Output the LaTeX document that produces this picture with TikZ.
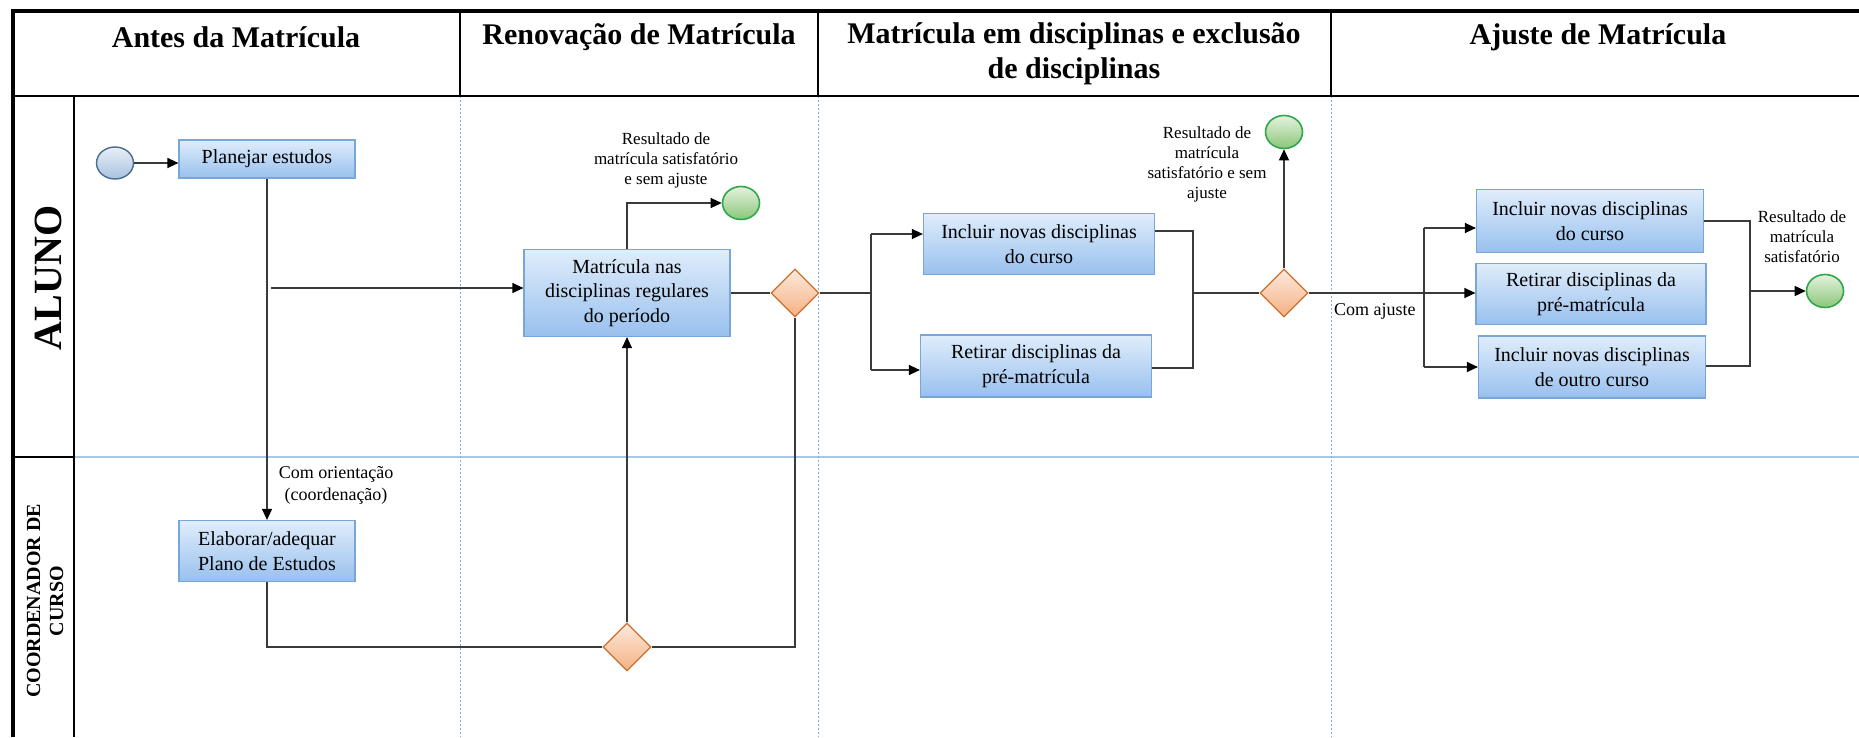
\documentclass[tikz,border=0pt]{standalone}
\usepackage{fontspec}
\setmainfont{Liberation Serif}
\usetikzlibrary{shapes.geometric,arrows.meta}
\definecolor{boxtop}{HTML}{E0EDFB}
\definecolor{boxbot}{HTML}{98C0EE}
\definecolor{boxline}{HTML}{78A6D8}
\definecolor{gwtop}{HTML}{FDE9DC}
\definecolor{gwbot}{HTML}{F4B183}
\definecolor{gwline}{HTML}{C8712F}
\definecolor{endtop}{HTML}{E4F2DD}
\definecolor{endbot}{HTML}{8CC67A}
\definecolor{endline}{HTML}{2EA84A}
\definecolor{sttop}{HTML}{E8EFF8}
\definecolor{stbot}{HTML}{A8C2E0}
\definecolor{stline}{HTML}{4A6C8F}
\definecolor{linegray}{HTML}{3A3A3A}
\definecolor{sepblue}{HTML}{A9C8E4}
\definecolor{divblue}{HTML}{7FB0D8}
\tikzset{
  task/.style={draw=boxline, line width=1.2pt, top color=boxtop, bottom color=boxbot,
    font=\fontsize{20}{24.5}\selectfont, align=center, inner sep=0pt},
  gw/.style={diamond, draw=gwline, line width=1.3pt, top color=gwtop, bottom color=gwbot,
    minimum width=48pt, minimum height=48pt, inner sep=0pt},
  endev/.style={ellipse, draw=endline, line width=1.6pt, top color=endtop, bottom color=endbot,
    minimum width=37pt, minimum height=33pt, inner sep=0pt},
  startev/.style={ellipse, draw=stline, line width=1.4pt, top color=sttop, bottom color=stbot,
    minimum width=37pt, minimum height=32pt, inner sep=0pt},
  conn/.style={draw=linegray, line width=1.3pt},
  arr/.style={conn, -{Triangle[length=11pt,width=10pt,color=black]}},
  lbl/.style={font=\fontsize{17}{20}\selectfont, align=center, inner sep=0pt},
  lblb/.style={font=\fontsize{18}{22}\selectfont, align=center, inner sep=0pt},
  hdr/.style={font=\bfseries\fontsize{30}{35}\selectfont, align=center, inner sep=0pt},
  frame/.style={draw=black, line width=2pt},
  thick frame/.style={draw=black, line width=4.5pt},
  divider/.style={draw=divblue, line width=0.8pt, dash pattern=on 2pt off 2pt},
  lanesep/.style={draw=sepblue, line width=1.3pt}
}
\begin{document}
\begin{tikzpicture}[x=1pt,y=-1pt]
\useasboundingbox (0,0) rectangle (1859,737);
\fill[white] (0,0) rectangle (1859,737);
% frame
\draw[lanesep] (74,457) -- (1859,457);
\draw[divider] (460,96) -- (460,737);
\draw[divider] (818,96) -- (818,737);
\draw[divider] (1331,96) -- (1331,737);
\draw[frame] (13,96) -- (1859,96);
\draw[frame] (460,11) -- (460,96);
\draw[frame] (818,11) -- (818,96);
\draw[frame] (1331,11) -- (1331,96);
\draw[frame] (74,96) -- (74,737);
\draw[frame] (13,457) -- (74,457);
\draw[thick frame] (11,11) -- (1859,11);
\draw[thick frame] (13,9) -- (13,737);
% headers
\node[hdr] (h1) at (236,37) {Antes da Matrícula};
\node[hdr] (h2) at (639,37) {Renovação de Matrícula};
\node[hdr] (h3) at (1074,54) {Matrícula em disciplinas e exclusão\\de disciplinas};
\node[hdr] (h4) at (1598,37) {Ajuste de Matrícula};
% lane labels
\node[font=\bfseries\fontsize{40}{44}\selectfont, rotate=90, inner sep=0pt] (lane1) at (48,278) {ALUNO};
\node[font=\bfseries\fontsize{20}{23}\selectfont, rotate=90, align=center, inner sep=0pt] (lane2) at (45,601) {COORDENADOR DE\\CURSO};
% nodes
\node[startev] (start) at (115,163) {};
\node[task, minimum width=176pt, minimum height=38pt] (plan) at (267,159) {Planejar estudos};
\node[task, minimum width=176pt, minimum height=61pt] (elab) at (267,551) {Elaborar/adequar\\Plano de Estudos};
\node[task, minimum width=206pt, minimum height=87pt] (mat) at (627,293) {Matrícula nas\\disciplinas regulares\\do período};
\node[lbl] (r1) at (666,160) {Resultado de\\matrícula satisfatório\\e sem ajuste};
\node[endev] (e1) at (741,203) {};
\node[gw] (g1) at (795,293) {};
\node[gw] (g0) at (627,647) {};
\node[task, minimum width=231pt, minimum height=61pt] (inc1) at (1039,244) {Incluir novas disciplinas\\do curso};
\node[task, minimum width=231pt, minimum height=62pt] (ret1) at (1036,366) {Retirar disciplinas da\\pré-matrícula};
\node[gw] (g2) at (1284,293) {};
\node[endev] (e2) at (1284,132) {};
\node[lbl] (r2) at (1207,164) {Resultado de\\matrícula\\satisfatório e sem\\ajuste};
\node[task, minimum width=227pt, minimum height=63pt] (incA) at (1590,221) {Incluir novas disciplinas\\do curso};
\node[task, minimum width=230pt, minimum height=61pt] (retB) at (1591,294) {Retirar disciplinas da\\pré-matrícula};
\node[task, minimum width=227pt, minimum height=62pt] (incC) at (1592,367) {Incluir novas disciplinas\\de outro curso};
\node[endev] (e3) at (1825,291) {};
\node[lbl] (r3) at (1802,237) {Resultado de\\matrícula\\satisfatório};
\node[lblb, anchor=west] (lc) at (1334,311) {Com ajuste};
\node[lblb] (lo) at (336,485) {Com orientação\\(coordenação)};
% connectors
\draw[arr] (start.east) -- (plan.west |- start);
\draw[arr] (plan.south) -- (elab.north);
\coordinate (j1) at (271,288);
\draw[arr] (j1) -- (j1 -| mat.west);
\draw[arr] (mat.north) |- (e1.west);
\draw[conn] (mat.east) -- (g1.west);
\coordinate (f1) at (871,293);
\coordinate (f1a) at (871,234);
\coordinate (f1b) at (871,370);
\draw[conn] (g1.east) -- (f1);
\draw[conn] (f1a) -- (f1b);
\draw[arr] (f1a) -- (f1a -| inc1.west);
\draw[arr] (f1b) -- (f1b -| ret1.west);
\coordinate (m1a) at (1193,231);
\coordinate (m1b) at (1193,368);
\draw[conn] (m1a -| inc1.east) -- (m1a) -- (m1b) -- (m1b -| ret1.east);
\draw[conn] (m1a |- g2) -- (g2.west);
\draw[arr] (g2.north) -- (e2.south);
\draw[arr] (g2.east) -- (g2.east -| retB.west);
\coordinate (f2a) at (1424,228);
\coordinate (f2b) at (1424,367);
\draw[conn] (f2a) -- (f2b);
\draw[arr] (f2a) -- (f2a -| incA.west);
\draw[arr] (f2b) -- (f2b -| incC.west);
\coordinate (m2a) at (1750,221);
\coordinate (m2b) at (1750,366);
\draw[conn] (m2a -| incA.east) -- (m2a) -- (m2b) -- (m2b -| incC.east);
\draw[arr] (m2a |- e3) -- (e3.west);
\draw[conn] (elab.south) |- (g0.west);
\draw[arr] (g0.north) -- (mat.south);
\draw[conn] (g0.east) -| (g1.south);
\end{tikzpicture}
\end{document}
